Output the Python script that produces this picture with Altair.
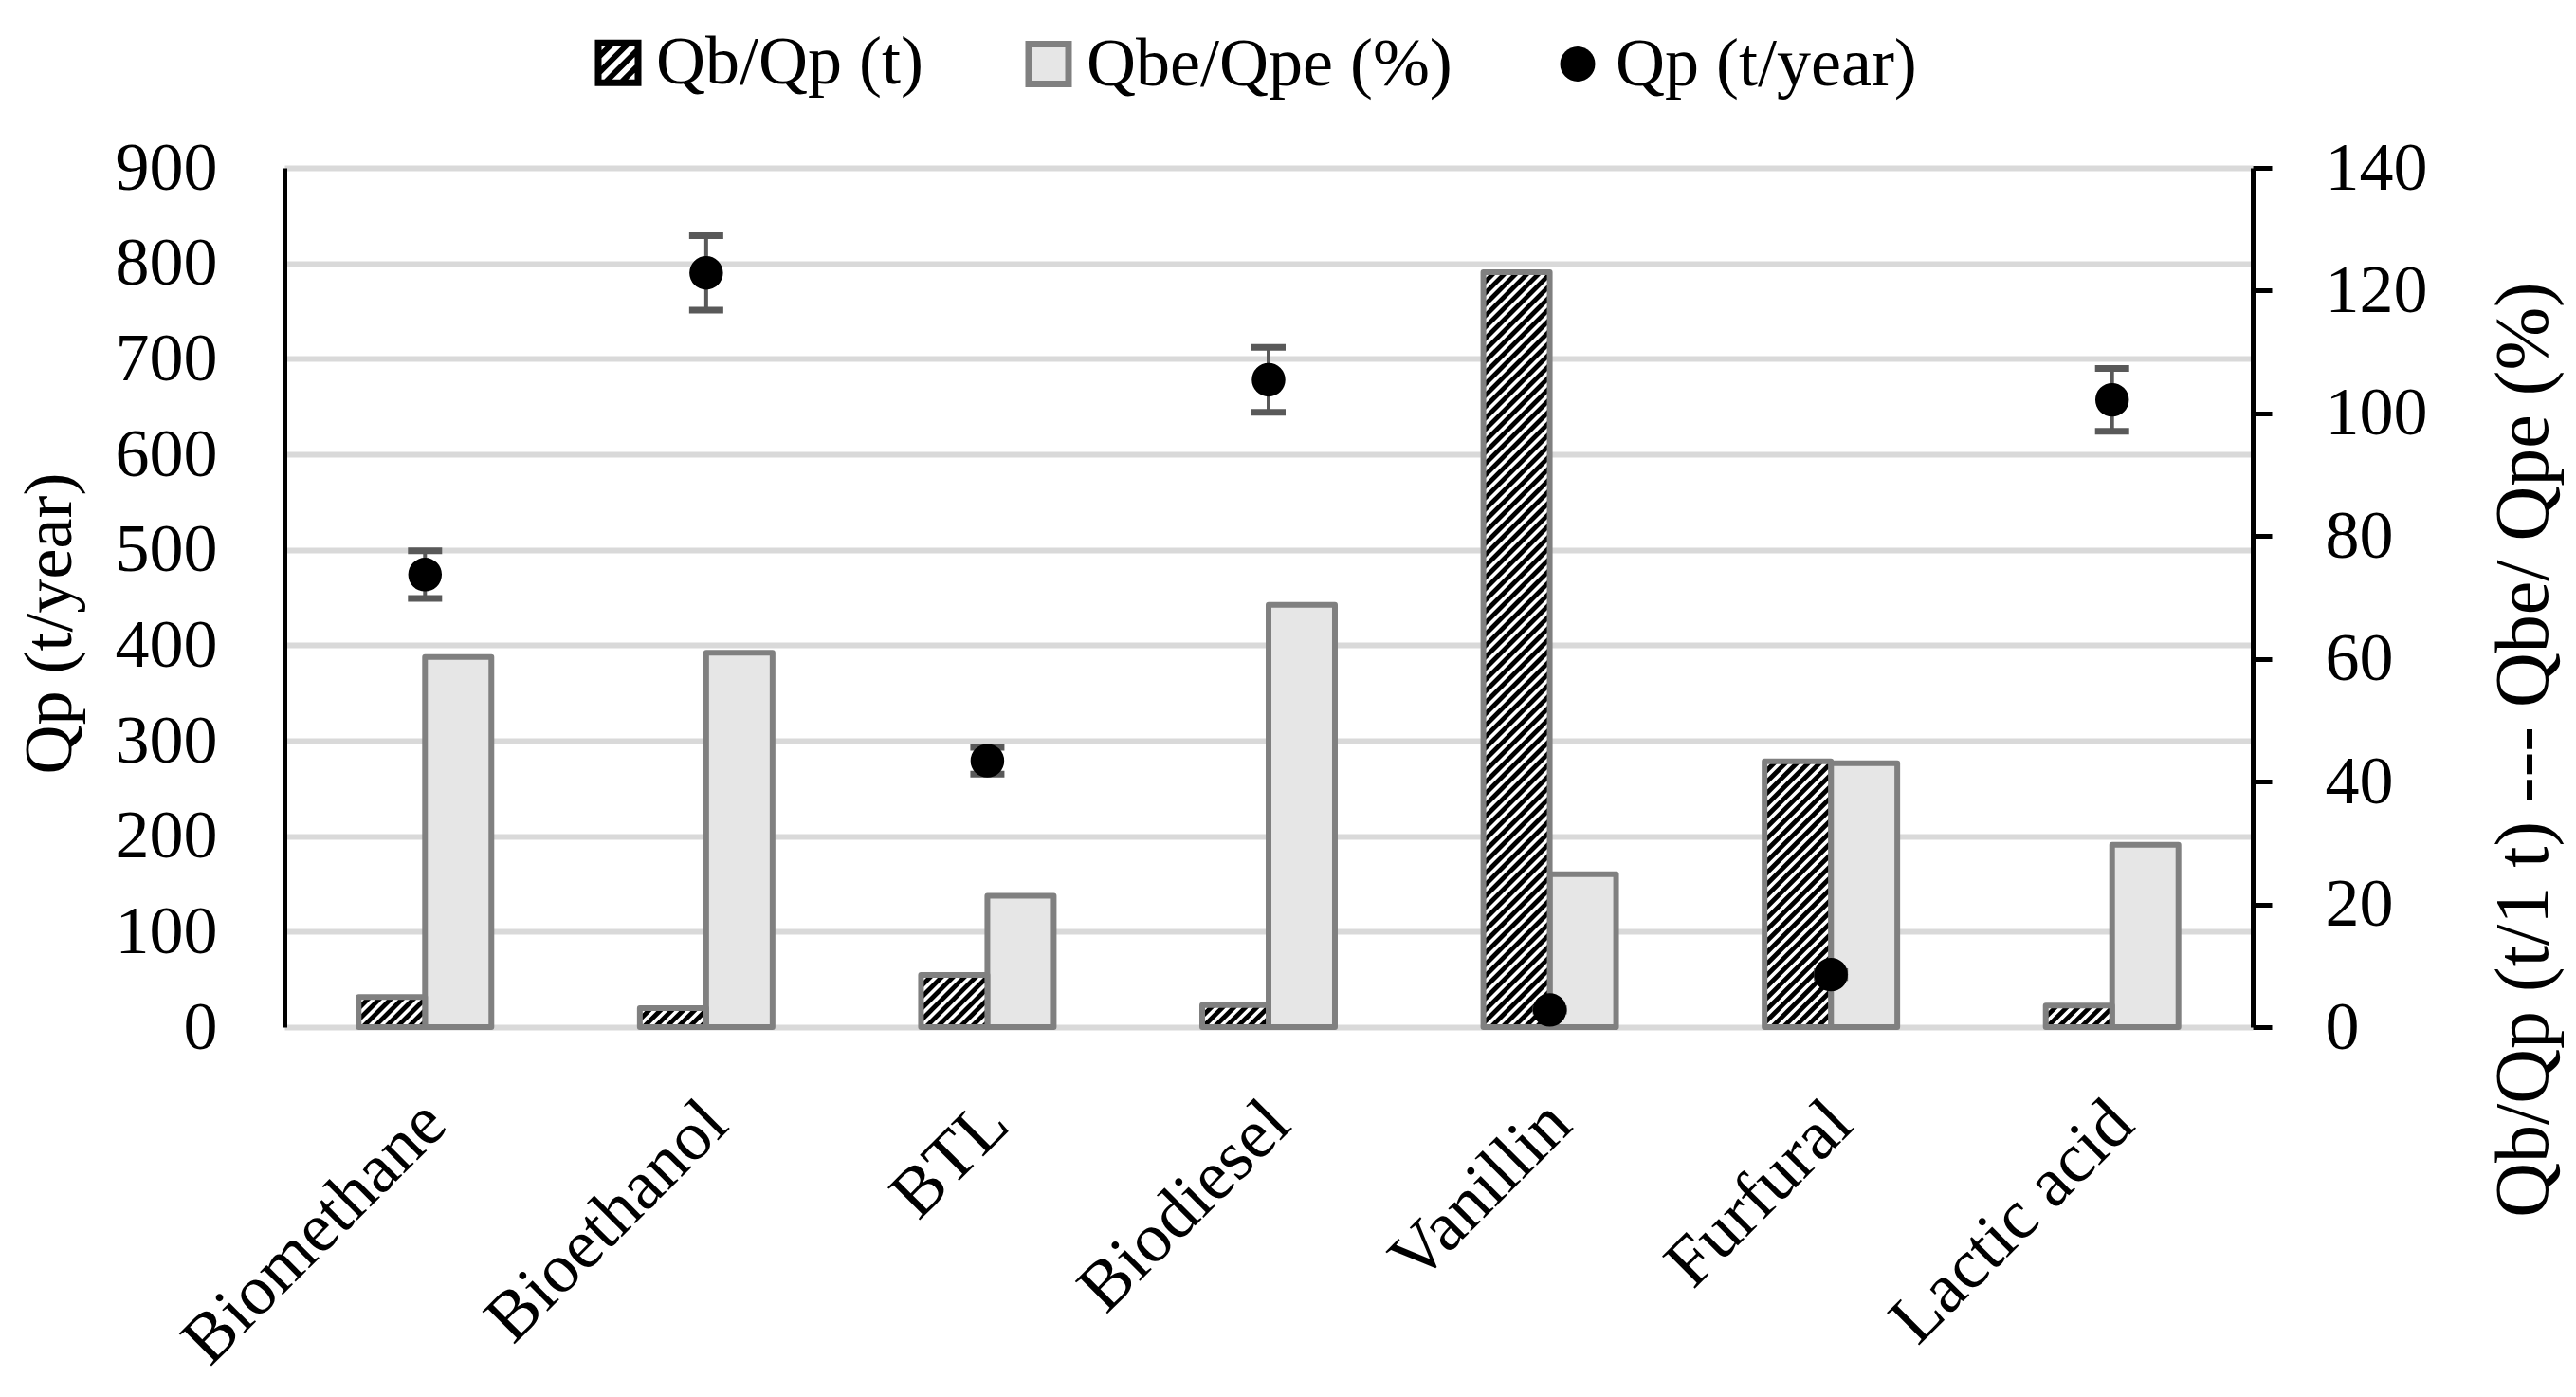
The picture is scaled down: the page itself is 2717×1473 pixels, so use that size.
import json
import altair as alt
import pandas as pd

# ---------------- data ----------------
categories = ["Biomethane", "Bioethanol", "BTL", "Biodiesel", "Vanillin", "Furfural", "Lactic acid"]
qb_qp = [4.9, 3.1, 8.5, 3.6, 123.0, 43.3, 3.5]          # right axis, hatched bars
qbe_qpe = [60.3, 61.0, 21.4, 68.8, 24.9, 43.0, 29.7]     # right axis, light grey bars
qp = [474, 790, 279, 678, 18, 55, 657]                   # left axis, black dots
qp_err = [25, 39, 14, 34, 1, 3, 33]                      # error bar half-length
legend_names = ["Qb/Qp (t)", "Qbe/Qpe (%)", "Qp (t/year)"]
left_ticks = [0, 100, 200, 300, 400, 500, 600, 700, 800, 900]
right_ticks = [0, 20, 40, 60, 80, 100, 120, 140]

df = pd.DataFrame({
    "idx": list(range(len(categories))),
    "category": categories,
    "qb_qp": qb_qp,
    "qbe_qpe": qbe_qpe,
    "qp": qp,
    "err": qp_err,
})

# ---------------- layout / style constants ----------------
PLOT_W, PLOT_H = 2076, 906
X_MAX, L_MAX, R_MAX = len(categories), 900, 140
PX_X = PLOT_W / X_MAX
PX_Y = PLOT_H / R_MAX
BAR_W = 0.236                 # bar width in category units
W_PX = BAR_W * PX_X
PERIOD = 12.0                 # hatch period in px
FONT = "Liberation Serif"
FS = 72

xscale = alt.Scale(domain=[0, X_MAX], nice=False, zero=False)
lscale = alt.Scale(domain=[0, L_MAX], nice=False, zero=True)
rscale = alt.Scale(domain=[0, R_MAX], nice=False, zero=True)

label_expr = json.dumps(categories) + "[floor(datum.value)]"
xaxis = alt.Axis(values=[i + 0.5 for i in range(len(categories))], labelExpr=label_expr,
                 labelAngle=-45, labelAlign="right", labelBaseline="middle",
                 labelPadding=90, labelOffset=10, labelFlush=False, labelOverlap=False,
                 labelLimit=2000, labelFontSize=74,
                 domain=False, ticks=False, grid=False, title=None)

left_axis = alt.Axis(orient="left", values=left_ticks, grid=True, gridColor="#d9d9d9", gridWidth=6,
                     domain=True, domainColor="black", domainWidth=5, ticks=False,
                     labelPadding=71, title="Qp (t/year)", titleAngle=270,
                     titleX=-248, titleY=480, titleAlign="center", titleBaseline="middle")

right_axis = alt.Axis(orient="right", values=right_ticks, grid=False,
                      domain=True, domainColor="black", domainWidth=5,
                      ticks=True, tickColor="black", tickWidth=5, tickSize=20,
                      labelPadding=56, title="Qb/Qp (t/1 t) --- Qbe/ Qpe (%)", titleAngle=270,
                      titleFontSize=80,
                      titleX=286, titleY=613, titleAlign="center", titleBaseline="middle")

base = alt.Chart(df)

# light grey bars (right axis)
grey_bars = base.transform_calculate(
    bx0="datum.idx + 0.5", bx1=f"datum.idx + 0.5 + {BAR_W}"
).mark_rect(fill="#e6e6e6", stroke="#808080", strokeWidth=6, strokeJoin="round").encode(
    x=alt.X("bx0:Q", scale=xscale, axis=xaxis),
    x2="bx1:Q",
    y=alt.Y("qbe_qpe:Q", scale=rscale, axis=right_axis),
    y2=alt.datum(0),
)

hatch_pos = base.transform_calculate(
    hx0=f"datum.idx + 0.5 - {BAR_W}", hx1="datum.idx + 0.5"
)
hatch_bg = hatch_pos.mark_rect(fill="white", strokeWidth=0).encode(
    x=alt.X("hx0:Q", scale=xscale, axis=xaxis),
    x2="hx1:Q",
    y=alt.Y("qb_qp:Q", scale=rscale, axis=right_axis),
    y2=alt.datum(0),
)
hatch_outline = hatch_pos.mark_rect(fillOpacity=0, stroke="#808080", strokeWidth=6,
                                    strokeJoin="round").encode(
    x=alt.X("hx0:Q", scale=xscale, axis=xaxis),
    x2="hx1:Q",
    y=alt.Y("qb_qp:Q", scale=rscale, axis=right_axis),
    y2=alt.datum(0),
)

# diagonal hatch lines, generated from each bar's value and clipped to the bar
stripes = base.transform_calculate(
    H=f"datum.qb_qp * {PX_Y}"
).transform_calculate(
    ks=f"sequence(0, ceil(({W_PX} + datum.H) / {PERIOD}) + 1)"
).transform_flatten(["ks"]).transform_calculate(
    c=f"datum.ks * {PERIOD} - datum.H"
).transform_calculate(
    u0="max(0, datum.c)"
).transform_calculate(
    u1=f"min({W_PX}, datum.H + datum.c)"
).transform_filter("datum.u1 > datum.u0").transform_calculate(
    sx0=f"datum.idx + 0.5 - {BAR_W} + datum.u0 / {PX_X}",
    sx1=f"datum.idx + 0.5 - {BAR_W} + datum.u1 / {PX_X}",
    sy0=f"(datum.u0 - datum.c) / {PX_Y}",
    sy1=f"(datum.u1 - datum.c) / {PX_Y}",
).mark_rule(color="black", strokeWidth=4.8).encode(
    x=alt.X("sx0:Q", scale=xscale, axis=xaxis),
    x2="sx1:Q",
    y=alt.Y("sy0:Q", scale=rscale, axis=right_axis),
    y2="sy1:Q",
)

right_group = alt.layer(grey_bars, hatch_bg, stripes, hatch_outline)

# error bars + dots (left axis)
pts = base.transform_calculate(
    xc="datum.idx + 0.5", lo="datum.qp - datum.err", hi="datum.qp + datum.err"
)
err_rule = pts.mark_rule(color="#595959", strokeWidth=4).encode(
    x=alt.X("xc:Q", scale=xscale, axis=xaxis),
    y=alt.Y("lo:Q", scale=lscale, axis=left_axis),
    y2="hi:Q",
)
err_caps = pts.transform_fold(["lo", "hi"], as_=["end", "val"]).mark_tick(
    orient="horizontal", size=36, thickness=7, color="#595959", opacity=1
).encode(
    x=alt.X("xc:Q", scale=xscale, axis=xaxis),
    y=alt.Y("val:Q", scale=lscale, axis=left_axis),
)
dots = pts.mark_circle(size=1257, color="black", opacity=1).encode(
    x=alt.X("xc:Q", scale=xscale, axis=xaxis),
    y=alt.Y("qp:Q", scale=lscale, axis=left_axis),
)
left_group = alt.layer(err_rule, err_caps, dots)


# ---------------- legend glyphs ----------------
def clip(poly, f):
    out = []
    n = len(poly)
    for i in range(n):
        p, q = poly[i], poly[(i + 1) % n]
        fp, fq = f(*p), f(*q)
        if fp >= 0:
            out.append(p)
        if (fp >= 0) != (fq >= 0):
            t = fp / (fp - fq)
            out.append((p[0] + t * (q[0] - p[0]), p[1] + t * (q[1] - p[1])))
    return out


def sub(poly):
    return "M" + "L".join(f"{x:.3f},{y:.3f}" for x, y in poly) + "Z"


O_, I_ = 1.1667, 0.8333
hatch_path = sub([(-O_, -O_), (O_, -O_), (O_, O_), (-O_, O_)])
hatch_path += sub([(-I_, -I_), (-I_, I_), (I_, I_), (I_, -I_)])
inner = [(-I_, -I_), (I_, -I_), (I_, I_), (-I_, I_)]
p_s = 0.8
a = -2 * I_ + 0.2
while a < 2 * I_:
    b = a + p_s / 2
    poly = clip(inner, lambda x, y, a=a: x + y - a)
    poly = clip(poly, lambda x, y, b=b: b - (x + y))
    if len(poly) >= 3:
        hatch_path += sub(poly)
    a += p_s
r_ = 0.88
circle_path = f"M{r_},0A{r_},{r_} 0 1,1 {-r_},0A{r_},{r_} 0 1,1 {r_},0Z"

legend = alt.Legend(orient="none", legendX=316, legendY=-147, direction="horizontal", title=None,
                    labelFont=FONT, labelFontSize=FS, labelColor="black", labelLimit=2000,
                    symbolSize=1764, symbolStrokeWidth=7, symbolOpacity=1, labelOffset=4,
                    columnPadding=96, padding=0)

leg_df = pd.DataFrame({"series": legend_names})
legend_layer = alt.Chart(leg_df).transform_filter("false").mark_point(filled=True, opacity=1).encode(
    shape=alt.Shape("series:N", scale=alt.Scale(domain=legend_names,
                                                range=[hatch_path, "square", circle_path]),
                    legend=legend),
    fill=alt.Fill("series:N", scale=alt.Scale(domain=legend_names,
                                              range=["black", "#e6e6e6", "black"]),
                  legend=legend),
    stroke=alt.Stroke("series:N", scale=alt.Scale(domain=legend_names,
                                                  range=["transparent", "#808080", "transparent"]),
                      legend=legend),
)

chart = alt.layer(right_group, left_group, legend_layer).resolve_scale(
    y="independent"
).properties(
    width=PLOT_W, height=PLOT_H,
    autosize=alt.AutoSizeParams(type="none"),
    padding={"left": 292, "top": 169, "right": 333, "bottom": 382},
    background="white",
).configure_view(stroke=None).configure_axis(
    labelFont=FONT, labelFontSize=FS, labelColor="black",
    titleFont=FONT, titleFontSize=FS, titleColor="black", titleFontWeight="normal",
).configure_legend(labelFont=FONT)

chart.save("out.html", embed_options={"renderer": "svg", "actions": False})
